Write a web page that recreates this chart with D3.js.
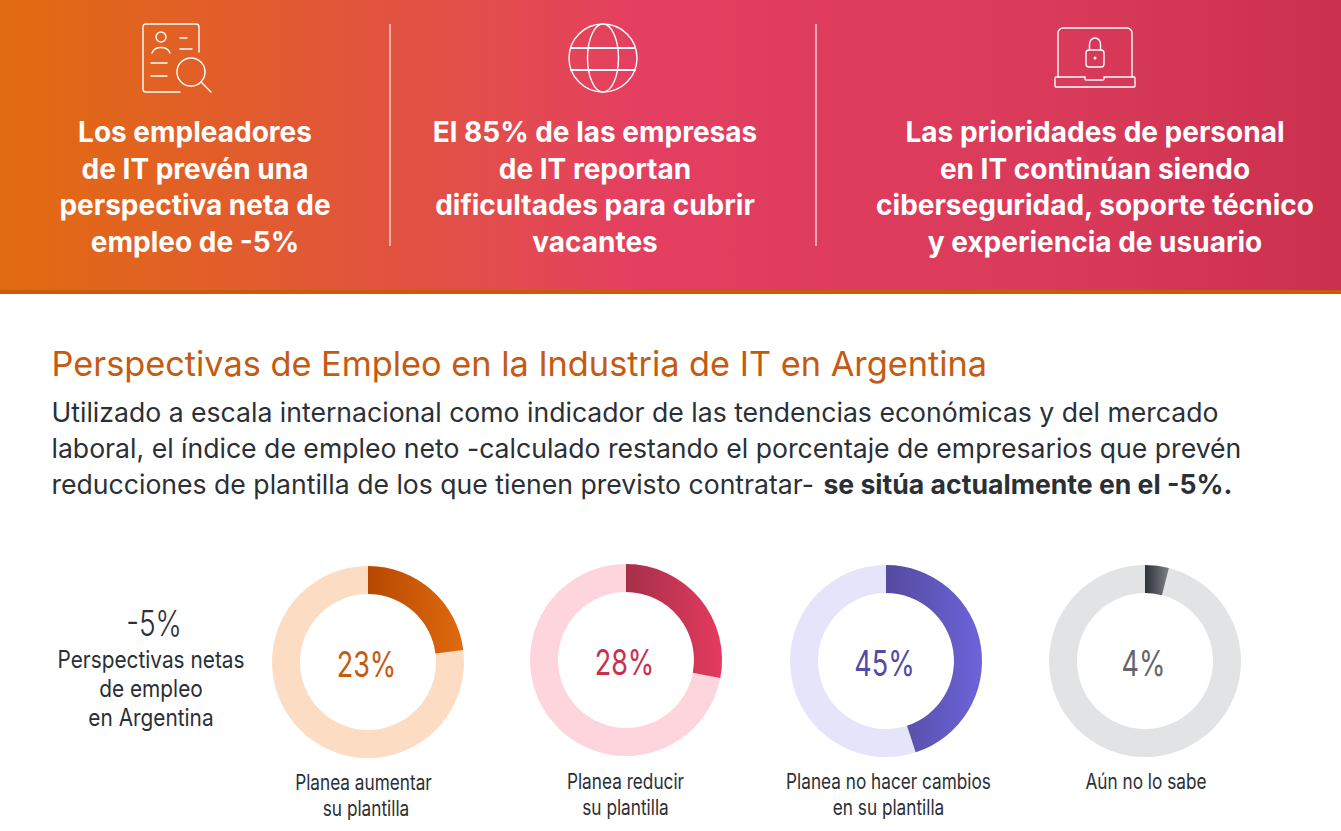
<!DOCTYPE html>
<html>
<head>
<meta charset="utf-8">
<script src="https://cdn.jsdelivr.net/npm/d3@7"></script>
<style>
  html, body { margin: 0; padding: 0; background: #fff; }
  svg { display: block; }
  text { font-family: Inter, "Noto Sans", sans-serif; }
</style>
</head>
<body>
<script>
// chart values
var categories = ["Planea aumentar", "Planea reducir", "Planea no hacer cambios", "Aún no lo sabe"];
var categories2 = ["su plantilla", "su plantilla", "en su plantilla", ""];
var values = [23, 28, 45, 4];
var valueLabels = ["23%", "28%", "45%", "4%"];
var netValue = "-5%";
var netLabel = ["Perspectivas netas", "de empleo", "en Argentina"];

var headlines = [
  ["Los empleadores", "de IT prevén una", "perspectiva neta de", "empleo de -5%"],
  ["El 85% de las empresas", "de IT reportan", "dificultades para cubrir", "vacantes"],
  ["Las prioridades de personal", "en IT continúan siendo", "ciberseguridad, soporte técnico", "y experiencia de usuario"]
];
var title = "Perspectivas de Empleo en la Industria de IT en Argentina";
var bodyLines = [
  "Utilizado a escala internacional como indicador de las tendencias económicas y del mercado",
  "laboral, el índice de empleo neto -calculado restando el porcentaje de empresarios que prevén",
  "reducciones de plantilla de los que tienen previsto contratar- "
];
var bodyBold = "se sitúa actualmente en el -5%.";

// styles, one per donut
var trackColors = ["#fddcc4", "#fed5dc", "#e6e4fb", "#e2e3e5"];
var gradFrom = ["#b74800", "#a5304a", "#544a9e", "#2c3037"];
var gradTo = ["#df6a0e", "#e53a5e", "#6d64da", "#7d8187"];
var labelColors = ["#c55a11", "#c9304f", "#534aa8", "#63676d"];

var width = 1341, height = 831;
var dark = "#2b2f36";

var svg = d3.select("body").append("svg")
  .attr("width", width)
  .attr("height", height);

var defs = svg.append("defs");

var bannerGrad = defs.append("linearGradient").attr("id", "banner");
[[0, "#e16c0f"], [0.335, "#e14f47"], [0.375, "#e34c4e"], [0.47, "#e43f60"], [0.8, "#d93a5a"], [1, "#cb304e"]].forEach(function (s) {
  bannerGrad.append("stop").attr("offset", s[0]).attr("stop-color", s[1]);
});

// banner
svg.append("rect").attr("width", width).attr("height", 291).attr("fill", "url(#banner)");
svg.append("rect").attr("y", 290).attr("width", width).attr("height", 4).attr("fill", "#c95c0c");

[390, 816].forEach(function (x) {
  svg.append("line")
    .attr("x1", x).attr("x2", x)
    .attr("y1", 24).attr("y2", 246)
    .attr("stroke", "#fff").attr("stroke-opacity", 0.8).attr("stroke-width", 1.4);
});

var headlineX = [195, 595, 1095];
headlines.forEach(function (lines, i) {
  lines.forEach(function (line, j) {
    svg.append("text")
      .attr("x", headlineX[i])
      .attr("y", 142 + j * 36.7)
      .attr("text-anchor", "middle")
      .attr("font-size", 28)
      .attr("font-weight", 700)
      .attr("fill", "#fff")
      .text(line);
  });
});

// icons
var icons = svg.append("g")
  .attr("fill", "none")
  .attr("stroke", "#fff")
  .attr("stroke-width", 1.4)
  .attr("stroke-linecap", "round");

var doc = icons.append("g");
doc.append("path").attr("d", "M180 92H146a3 3 0 0 1-3-3V27a3 3 0 0 1 3-3H196a3 3 0 0 1 3 3V52");
doc.append("circle").attr("cx", 161).attr("cy", 37).attr("r", 5);
doc.append("path").attr("d", "M152 53a9.5 8 0 0 1 18 0");
doc.append("path").attr("d", "M180 38H187M180 49H192M151 63H167M151 76H167");
doc.append("circle").attr("cx", 191).attr("cy", 72).attr("r", 14);
doc.append("path").attr("d", "M201 82L211 92");

var globe = icons.append("g");
globe.append("ellipse").attr("cx", 603).attr("cy", 58).attr("rx", 34).attr("ry", 34);
globe.append("ellipse").attr("cx", 603).attr("cy", 58).attr("rx", 15.5).attr("ry", 34);
globe.append("path").attr("d", "M571 48H635M571 70H635").attr("stroke-width", 2.2);

var laptop = icons.append("g");
laptop.append("path").attr("d", "M1058 77V33a5 5 0 0 1 5-5H1127a5 5 0 0 1 5 5V77");
laptop.append("path").attr("d", "M1055 78a1 1 0 0 1 1-1H1085v2a1 1 0 0 0 1 1H1103a1 1 0 0 0 1-1v-2H1134a1 1 0 0 1 1 1v8a1 1 0 0 1-1 1H1056a1 1 0 0 1-1-1Z");
laptop.append("rect").attr("x", 1086).attr("y", 50).attr("width", 18).attr("height", 17).attr("rx", 3);
laptop.append("path").attr("d", "M1089.5 50V44a5.5 6 0 0 1 11 0V50");
laptop.append("circle").attr("cx", 1095).attr("cy", 58).attr("r", 0.8);

// title and paragraph
svg.append("text")
  .attr("x", 51.5).attr("y", 376)
  .attr("font-size", 34.3)
  .attr("fill", "#c55a11")
  .text(title);

bodyLines.forEach(function (line, i) {
  var t = svg.append("text")
    .attr("x", 51.5)
    .attr("y", 422 + i * 36)
    .attr("font-size", 26.6)
    .attr("fill", dark)
    .style("white-space", "pre")
    .text(line);
  if (i === bodyLines.length - 1) {
    t.append("tspan").attr("dx", 2).attr("font-weight", 700).text(bodyBold);
  }
});

// donuts
var centersX = [368, 626, 886, 1145];
var centersY = [662, 660, 661, 661];
var captionX = [363.5, 625.5, 888.5, 1146];
var captionX2 = [366, 625.5, 888.5, 1146];
var captionY = [790, 789, 789, 789];
var angle = d3.scaleLinear().domain([0, 100]).range([0, 2 * Math.PI]);
var arc = d3.arc().innerRadius(68).outerRadius(96);

// condensed text, like the narrow type in the reference
function squeezed(x, y, size, fill, str, sx) {
  return svg.append("text")
    .attr("transform", "translate(" + x + "," + y + ") scale(" + sx + ",1)")
    .attr("text-anchor", "middle")
    .attr("font-size", size)
    .attr("fill", fill)
    .text(str);
}

values.forEach(function (v, i) {
  var g = svg.append("g")
    .attr("transform", "translate(" + centersX[i] + "," + centersY[i] + ")");

  var grad = defs.append("linearGradient")
    .attr("id", "grad" + i)
    .attr("gradientUnits", "objectBoundingBox");
  grad.append("stop").attr("offset", 0).attr("stop-color", gradFrom[i]);
  grad.append("stop").attr("offset", 1).attr("stop-color", gradTo[i]);

  g.append("path")
    .attr("d", arc({ startAngle: 0, endAngle: 2 * Math.PI }))
    .attr("fill", trackColors[i]);
  g.append("path")
    .attr("d", arc({ startAngle: 0, endAngle: angle(v) }))
    .attr("fill", "url(#grad" + i + ")");

  squeezed(centersX[i] - 1.5, centersY[i] + 15, 36, labelColors[i], valueLabels[i], 0.75);
  squeezed(captionX[i], captionY[i], 21, dark, categories[i], 0.82);
  if (categories2[i]) {
    squeezed(captionX2[i], captionY[i] + 26, 21, dark, categories2[i], 0.82);
  }
});

// net figure on the left
squeezed(154, 636, 36, dark, netValue, 0.78).attr("font-weight", 300);
netLabel.forEach(function (line, i) {
  squeezed(151, 668 + i * 29, 24, dark, line, 0.868);
});
</script>
</body>
</html>
